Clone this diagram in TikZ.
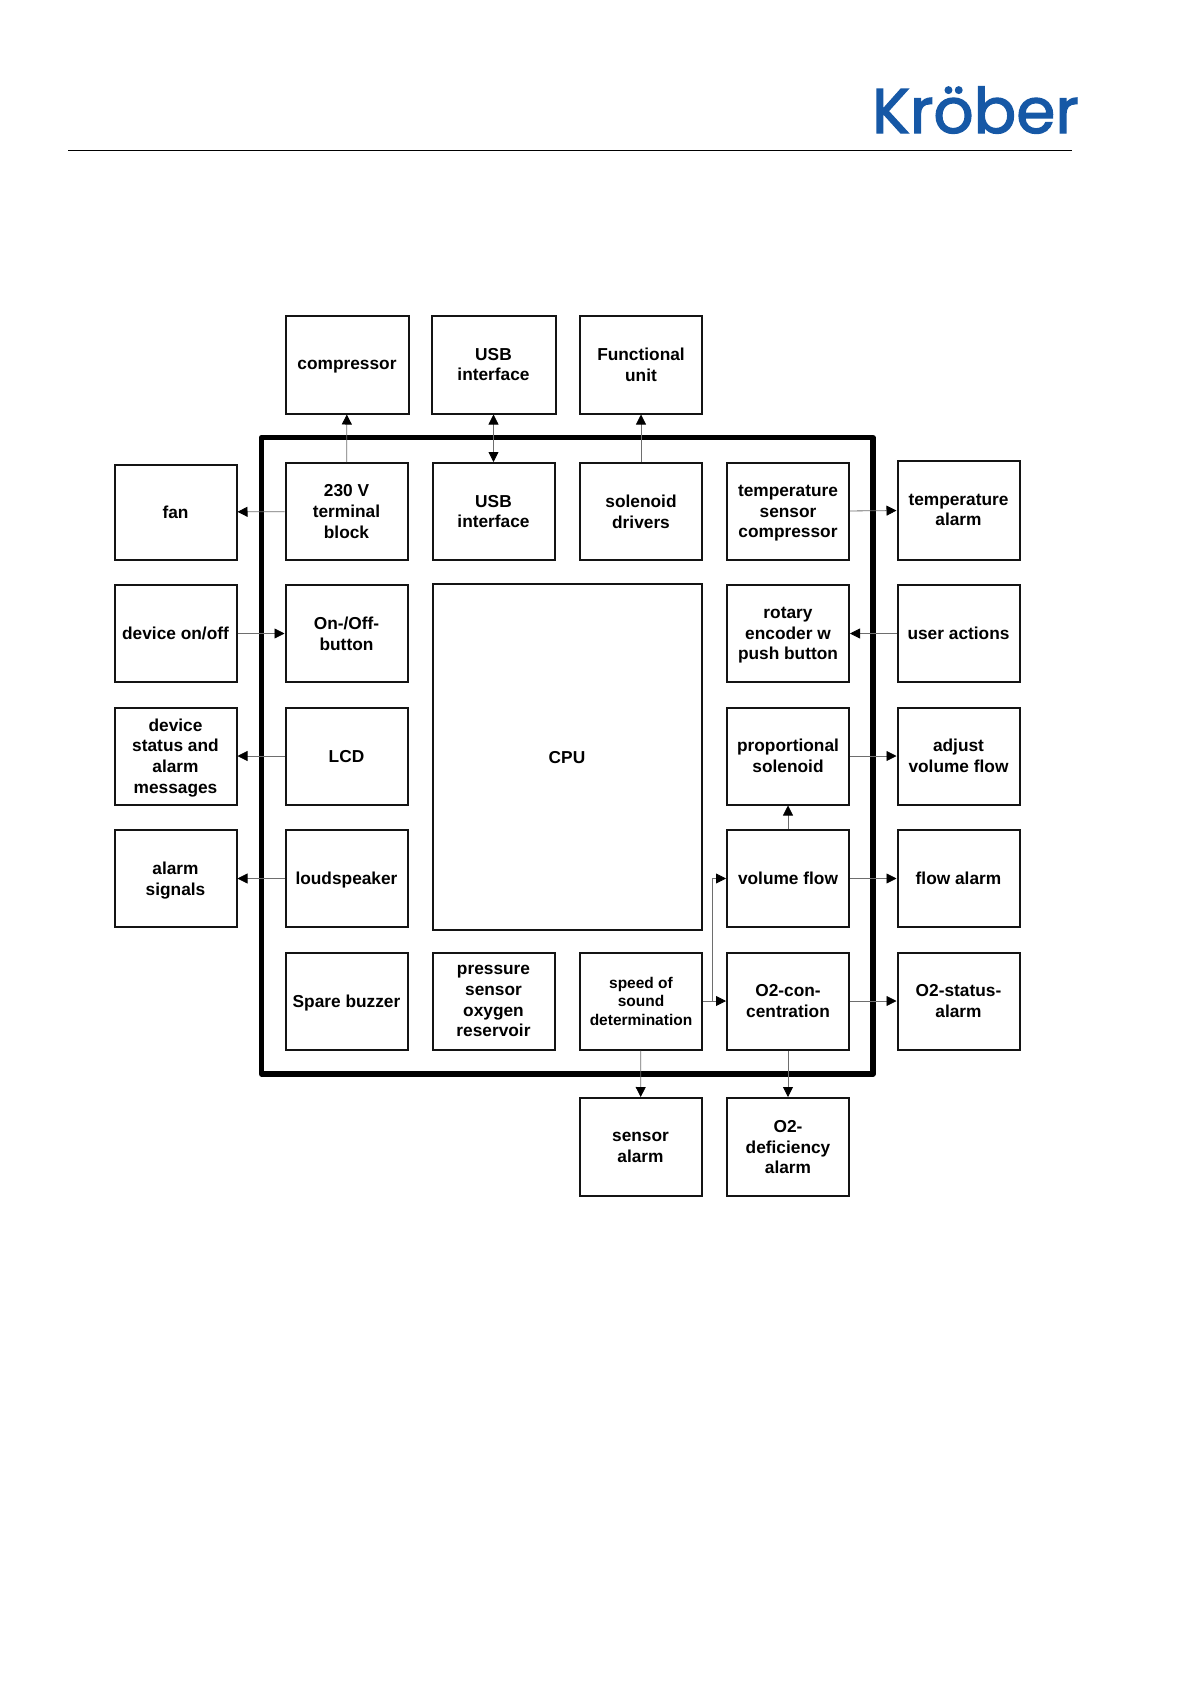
\documentclass[tikz,border=0pt]{standalone}
\usepackage{fontspec}
\setmainfont{Liberation Sans}
\newfontfamily\logofont[FakeBold=2]{Poppins}
\usetikzlibrary{arrows.meta, positioning}
\definecolor{logoblue}{RGB}{22,88,166}
\definecolor{wiregray}{RGB}{110,110,110}
\definecolor{boxblack}{RGB}{20,20,20}
\tikzset{
  block/.style={rectangle, draw=boxblack, line width=2pt, inner sep=0pt, align=center,
                font=\fontsize{17.3}{20.7}\selectfont\bfseries, text depth=0pt,
                minimum width=122pt, minimum height=97pt},
  smallblock/.style={block, font=\fontsize{15.5}{18.6}\selectfont\bfseries},
  frame/.style={draw=black, line width=5.4pt, line join=round},
  arr/.style={-{Triangle[length=10pt, width=10pt, color=black, fill=black]}, line width=0.8pt, color=wiregray},
  darr/.style={{Triangle[length=10pt, width=10pt, color=black, fill=black]}-{Triangle[length=10pt, width=10pt, color=black, fill=black]}, line width=0.8pt, color=wiregray},
}
\begin{document}
\begin{tikzpicture}[x=1pt, y=-1pt]
  \useasboundingbox (0,0) rectangle (1191,1684);

  % Header
  \node[font=\fontsize{63}{63}\logofont, text=logoblue, inner sep=0pt] (logo) at (975.5,110) {Kröber};
  \coordinate (ruleleft) at (68,150);
  \coordinate (ruleright) at (1072,150);
  \draw[line width=0.9pt] (ruleleft) -- (ruleright);

  % Device frame
  \coordinate (framea) at (261.5,437.5);
  \coordinate (frameb) at (873,1074);
  \draw[frame] (framea) rectangle (frameb);

  % Top row
  \node[block, minimum width=123pt, minimum height=98pt] (compressor) at (347,364.5) {compressor};
  \node[block, minimum width=124pt, minimum height=98pt] (usbout)     at (493.5,364.5) {USB\\interface};
  \node[block, minimum height=98pt] (funcunit) at (641,364.5) {Functional\\unit};

  % First row
  \node[block, minimum height=95pt] (fan)      at (175.5,512) {fan};
  \node[block] (terminal) at (346.5,511.5) {230 V\\terminal\\block};
  \node[block] (usbin)    at (493.5,511.5) {USB\\interface};
  \node[block] (drivers)  at (641,511.5) {solenoid\\drivers};
  \node[block] (tempsens) at (788,511.5) {temperature\\sensor\\compressor};
  \node[block, minimum height=99pt] (tempalarm) at (958.5,510) {temperature\\alarm};

  % Second row
  \node[block] (deviceonoff) at (175.5,633.5) {device on/off};
  \node[block] (onoff)       at (346.5,633.5) {On-/Off-\\button};
  \node[block, minimum width=269pt, minimum height=346pt] (cpu) at (567,757) {CPU};
  \node[block] (rotary)      at (788,633.5) {rotary\\encoder w\\push button};
  \node[block] (useractions) at (958.5,633.5) {user actions};

  % Third row
  \node[block] (status) at (175.5,756) {device\\status and\\alarm\\messages};
  \node[block] (lcd)    at (346.5,756) {LCD};
  \node[block] (propsol) at (788,756) {proportional\\solenoid};
  \node[block] (adjust) at (958.5,756) {adjust\\volume flow};

  % Fourth row
  \node[block] (signals) at (175.5,878.5) {alarm\\signals};
  \node[block] (speaker) at (346.5,878.5) {loudspeaker};
  \node[block] (volflow) at (788,878.5) {volume flow};
  \node[block] (flowalarm) at (958.5,878.5) {flow alarm};

  % Fifth row
  \node[block] (buzzer)   at (346.5,1001) {Spare buzzer};
  \node[block] (pressure) at (493.5,1001) {pressure\\sensor\\oxygen\\reservoir};
  \node[smallblock] (speed) at (641,1001) {speed of\\sound\\determination};
  \node[block] (conc)     at (788,1001) {O2-con-\\centration};
  \node[block] (o2status) at (958.5,1001) {O2-status-\\alarm};

  % Bottom row
  \node[block, minimum height=98pt] (sensoralarm) at (640.5,1147) {sensor\\alarm};
  \node[block, minimum height=98pt] (deficiency)  at (788,1147) {O2-\\deficiency\\alarm};

  % Connections
  \draw[arr] (terminal) -- (compressor);
  \draw[darr] (usbout) -- (usbin);
  \draw[arr] (drivers) -- (funcunit);
  \draw[arr] (terminal) -- (fan);
  \draw[arr] (tempsens) -- (tempalarm);
  \draw[arr] (deviceonoff) -- (onoff);
  \draw[arr] (useractions) -- (rotary);
  \draw[arr] (lcd) -- (status);
  \draw[arr] (propsol) -- (adjust);
  \draw[arr] (volflow) -- (propsol);
  \draw[arr] (speaker) -- (signals);
  \draw[arr] (volflow) -- (flowalarm);
  \draw[arr] (speed) -- (conc);
  \coordinate (branch) at (712,1001);
  \draw[arr] (branch) |- (volflow.west);
  \draw[arr] (conc) -- (o2status);
  \draw[arr] (speed) -- (sensoralarm);
  \draw[arr] (conc) -- (deficiency);
\end{tikzpicture}
\end{document}
